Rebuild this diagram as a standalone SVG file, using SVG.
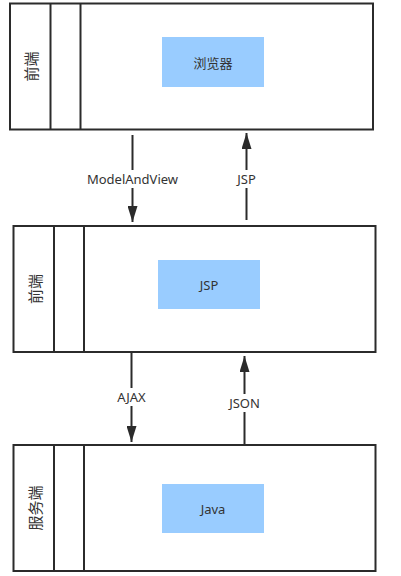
<svg xmlns="http://www.w3.org/2000/svg" width="401" height="576" viewBox="0 0 401 576">
<style>
.frame{fill:#fff;stroke:#2b2b2b;stroke-width:2}
.div{stroke:#2b2b2b;stroke-width:2}
.blue{fill:#99ccff}
.t{font-family:"Noto Sans","Noto Sans CJK SC",sans-serif;font-size:13px;fill:#333;text-anchor:middle;dominant-baseline:central}
.v{font-family:"Noto Sans CJK SC","Noto Sans",sans-serif;font-size:15px;fill:#333;text-anchor:middle;dominant-baseline:central}
.c{font-family:"Noto Sans CJK SC","Noto Sans",sans-serif;font-size:13px;fill:#333;text-anchor:middle;dominant-baseline:central}
.ln{stroke:#2b2b2b;stroke-width:2;fill:none;marker-end:url(#ah)}
.bg{fill:#fff}
</style>
<defs>
<marker id="ah" markerUnits="userSpaceOnUse" viewBox="0 0 16 10" refX="16" refY="5" markerWidth="16" markerHeight="10" orient="auto">
<path d="M0,0 L16,5 L0,10 z" fill="#2b2b2b"/>
</marker>
</defs>
<g id="browser-tier">
<rect class="frame" x="10" y="3.5" width="363" height="126"/>
<line class="div" x1="50.5" y1="3.5" x2="50.5" y2="129.5"/>
<line class="div" x1="80.5" y1="3.5" x2="80.5" y2="129.5"/>
<text class="v" transform="translate(30,66.5) rotate(-90)">前端</text>
<rect class="blue" x="162" y="37" width="102" height="50"/>
<text class="c" x="213" y="62">浏览器</text>
</g>
<g id="jsp-tier">
<rect class="frame" x="13.5" y="226" width="362" height="126"/>
<line class="div" x1="54" y1="226" x2="54" y2="352"/>
<line class="div" x1="84" y1="226" x2="84" y2="352"/>
<text class="v" transform="translate(34,289) rotate(-90)">前端</text>
<rect class="blue" x="158" y="260" width="102" height="49"/>
<text class="t" x="209" y="284.5">JSP</text>
</g>
<g id="server-tier">
<rect class="frame" x="13.5" y="445" width="362" height="126"/>
<line class="div" x1="54" y1="445" x2="54" y2="571"/>
<line class="div" x1="84" y1="445" x2="84" y2="571"/>
<text class="v" transform="translate(34,508) rotate(-90)">服务端</text>
<rect class="blue" x="162" y="484" width="102" height="49"/>
<text class="t" x="213" y="508.5">Java</text>
</g>
<g id="connectors">
<line class="ln" x1="132.5" y1="135" x2="132.5" y2="222"/>
<rect class="bg" x="84" y="170" width="97" height="18"/>
<text class="t" x="132.5" y="179">ModelAndView</text>
<line class="ln" x1="246.5" y1="220" x2="246.5" y2="133"/>
<rect class="bg" x="234" y="170" width="25" height="18"/>
<text class="t" x="246.5" y="179">JSP</text>
<line class="ln" x1="131.5" y1="352" x2="131.5" y2="442"/>
<rect class="bg" x="114" y="388" width="35" height="18"/>
<text class="t" x="131.5" y="396.5">AJAX</text>
<line class="ln" x1="244.5" y1="444" x2="244.5" y2="356"/>
<rect class="bg" x="226" y="394" width="37" height="18"/>
<text class="t" x="244.5" y="403">JSON</text>
</g>
</svg>
